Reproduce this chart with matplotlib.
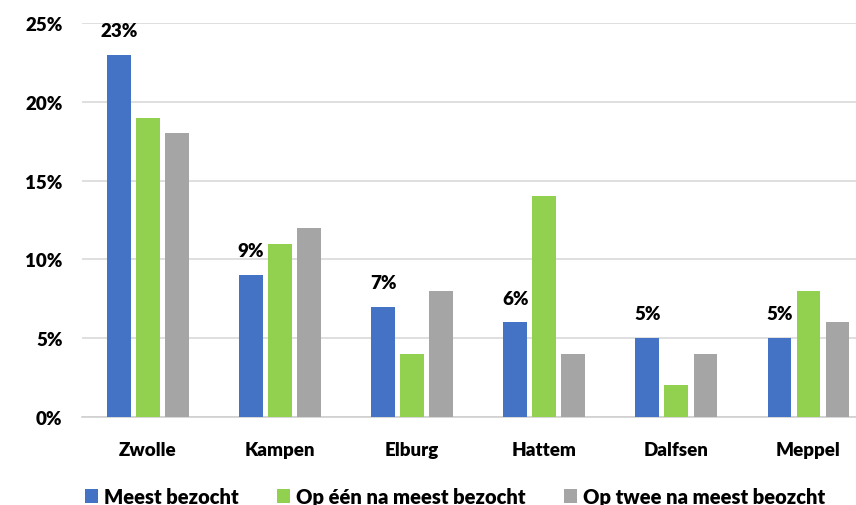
import matplotlib
matplotlib.use("Agg")
import matplotlib.pyplot as plt
import numpy as np

plt.rcParams['font.family'] = ['Lato', 'DejaVu Sans']
plt.rcParams['font.weight'] = 'heavy'

cities = ['Zwolle', 'Kampen', 'Elburg', 'Hattem', 'Dalfsen', 'Meppel']
meest = [23, 9, 7, 6, 5, 5]
een_na = [19, 11, 4, 14, 2, 8]
twee_na = [18, 12, 8, 4, 4, 6]
series_names = ['Meest bezocht', 'Op één na meest bezocht', 'Op twee na meest beozcht']
colors = ['#4472C4', '#92D050', '#A5A5A5']

fig = plt.figure(figsize=(8.56, 5.06), dpi=100)
ax = fig.add_axes([82 / 856, 88 / 506, 1 - 82 / 856, 394 / 506])

x = np.arange(len(cities))
w = 0.18
step = 0.22
bars = []
for k, (vals, c) in enumerate(zip([meest, een_na, twee_na], colors)):
    b = ax.bar(x + (k - 1) * step, np.array(vals) / 100, width=w, color=c,
               label=series_names[k], zorder=3)
    bars.append(b)

# data labels on the first series only
for xi, v in zip(x, meest):
    ax.text(xi - step, v / 100 + 0.0155, f'{v}%', ha='center', va='center',
            fontsize=13.5, fontweight='heavy')

ax.set_ylim(0, 0.25)
ax.set_xlim(-0.5, 5.36)
ax.set_yticks(np.arange(0, 0.26, 0.05))
ax.set_yticklabels([f'{int(round(t * 100))}%' for t in np.arange(0, 0.26, 0.05)])
ax.set_xticks(x)
ax.set_xticklabels(cities)
ax.tick_params(axis='both', length=0, labelsize=13.5)
ax.tick_params(axis='y', pad=14)
ax.tick_params(axis='x', pad=17)
ax.yaxis.grid(True, color='#D9D9D9', linewidth=1.2, zorder=0)
ax.set_axisbelow(True)
for s in ['top', 'right', 'left']:
    ax.spines[s].set_visible(False)
ax.spines['bottom'].set_color('#D0D0D0')
ax.spines['bottom'].set_linewidth(1.2)

fig.legend(handles=bars, labels=series_names, loc='lower left',
           bbox_to_anchor=(67 / 856, -0.038), ncol=3, frameon=False,
           fontsize=14.5, handlelength=0.65, handleheight=0.75,
           handletextpad=0.3, columnspacing=1.9)

fig.savefig('out.png', dpi=100)
